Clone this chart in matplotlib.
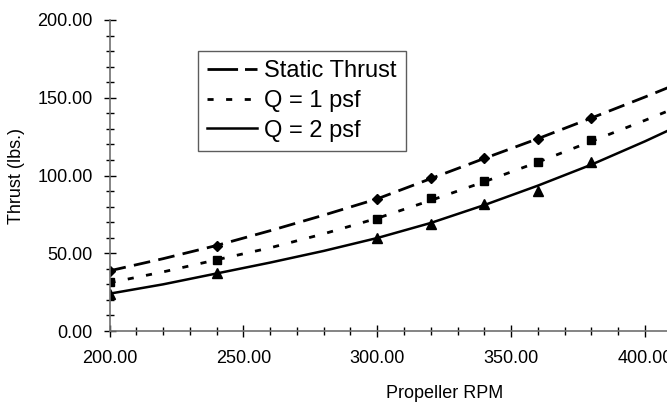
import numpy as np
import matplotlib.pyplot as plt
from matplotlib.lines import Line2D
from matplotlib.ticker import MultipleLocator, FormatStrFormatter

plt.rcParams['font.family'] = ['Liberation Sans', 'DejaVu Sans']

# measured points
rpm_pts = [200, 240, 300, 320, 340, 360, 380]
static_pts = [38.7, 54.8, 85.0, 98.3, 111.2, 123.7, 137.0]
q1_pts = [31.8, 45.8, 72.1, 85.4, 96.3, 108.6, 122.6]
q2_pts = [23.7, 37.0, 59.8, 68.8, 81.7, 90.3, 108.6]

# smoothed trend curves
rpm_curve = [200, 220, 240, 260, 280, 300, 320, 340, 360, 380, 400, 410]
static_curve = [38.7, 46.5, 55.0, 64.5, 74.5, 85.0, 98.0, 111.0, 123.7, 137.0, 150.5, 157.5]
q1_curve = [31.0, 38.0, 45.8, 53.5, 62.5, 72.5, 84.0, 96.0, 108.6, 122.0, 135.5, 142.5]
q2_curve = [24.0, 30.0, 37.0, 44.0, 51.5, 59.8, 69.5, 81.0, 93.5, 107.0, 122.0, 130.0]

labels = ['Static Thrust', 'Q = 1 psf', 'Q = 2 psf']

fig = plt.figure(figsize=(6.67, 4.04), dpi=100)
ax = fig.add_axes([109.5/667, 73/404, 1 - 109.5/667, 311/404])

ax.plot(rpm_curve, static_curve, color='black', lw=2.0, dashes=(6, 3))
ax.plot(rpm_curve, q1_curve, color='black', lw=2.0, dashes=(2.2, 4.5))
ax.plot(rpm_curve, q2_curve, color='black', lw=1.8)

ax.plot(rpm_pts, static_pts, 'D', color='black', ms=5.5)
ax.plot(rpm_pts, q1_pts, 's', color='black', ms=5.2)
ax.plot(rpm_pts, q2_pts, '^', color='black', ms=6.5)

ax.set_xlim(200, 408.2)
ax.set_ylim(0, 200)

for s in ['top', 'right']:
    ax.spines[s].set_visible(False)
for s in ['left', 'bottom']:
    ax.spines[s].set_color('#707070')
    ax.spines[s].set_linewidth(1.2)

ax.xaxis.set_major_locator(MultipleLocator(50))
ax.xaxis.set_minor_locator(MultipleLocator(10))
ax.yaxis.set_major_locator(MultipleLocator(50))
ax.yaxis.set_minor_locator(MultipleLocator(10))
ax.xaxis.set_major_formatter(FormatStrFormatter('%.2f'))
ax.yaxis.set_major_formatter(FormatStrFormatter('%.2f'))

ax.tick_params(which='major', direction='inout', length=8, width=1, labelsize=13)
ax.tick_params(which='minor', direction='inout', length=5.5, width=1)
ax.tick_params(axis='x', which='major', pad=10)
ax.tick_params(axis='y', which='major', pad=8)

fig.text(17/667, 1 - 175.5/404, 'Thrust (lbs.)', fontsize=13, rotation=90,
         ha='center', va='center')
fig.text(445/667, 1 - 393/404, 'Propeller RPM', fontsize=13, ha='center', va='center')

# legend keys drawn with their own dash patterns
handles = [Line2D([], [], color='black', lw=2.0, dashes=(11, 2.5)),
           Line2D([], [], color='black', lw=2.0, dashes=(2.2, 4.5)),
           Line2D([], [], color='black', lw=1.8)]
leg = ax.legend(handles, labels,
                loc='upper left', bbox_to_anchor=(198/667, 1 - 51/404),
                bbox_transform=fig.transFigure, fontsize=17, frameon=True,
                fancybox=False, handlelength=2.1,
                handletextpad=0.3, labelspacing=0.32, borderpad=0.4,
                borderaxespad=0)
leg.get_frame().set_linewidth(1.0)
leg.get_frame().set_edgecolor('#333333')

fig.savefig('out.png', dpi=100)
